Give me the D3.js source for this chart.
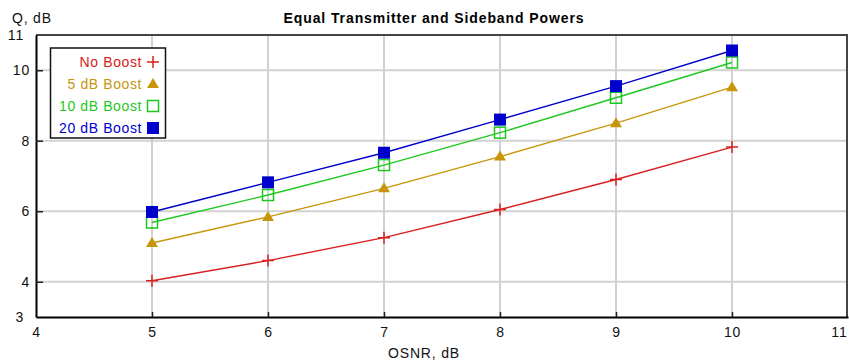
<!DOCTYPE html>
<html>
<head>
<meta charset="utf-8">
<script src="https://cdn.jsdelivr.net/npm/d3@7"></script>
<style>
  body { margin: 0; background: #fff; }
  svg { display: block; font-family: "Liberation Sans", Arial, sans-serif; }
</style>
</head>
<body>
<div id="chart"></div>
<script>
// data
const osnr = [5, 6, 7, 8, 9, 10];
const noBoost = [4.03, 4.6, 5.25, 6.05, 6.9, 7.82];
const boost5 = [5.1, 5.84, 6.65, 7.55, 8.5, 9.52];
const boost10 = [5.68, 6.46, 7.31, 8.23, 9.22, 10.22];
const boost20 = [5.98, 6.82, 7.66, 8.6, 9.55, 10.56];
const seriesNames = ["No Boost", "5 dB Boost", "10 dB Boost", "20 dB Boost"];
const xTicks = [4, 5, 6, 7, 8, 9, 10, 11];
const yTicks = [3, 4, 6, 8, 10, 11];
const xGrid = [5, 6, 7, 8, 9, 10];
const yGrid = [4, 6, 8, 10];

const width = 849;
const height = 362;
const marginTop = 35;
const marginRight = 1;
const marginBottom = 45;
const marginLeft = 36;

const series = [
  {name: seriesNames[0], values: noBoost, color: "#d92020", marker: "plus"},
  {name: seriesNames[1], values: boost5, color: "#c8960a", marker: "triangle"},
  {name: seriesNames[2], values: boost10, color: "#1ec81e", marker: "open"},
  {name: seriesNames[3], values: boost20, color: "#0000cc", marker: "filled"}
];

const svg = d3.select("#chart")
  .append("svg")
  .attr("width", width)
  .attr("height", height)
  .attr("viewBox", [0, 0, width, height]);

const x = d3.scaleLinear()
  .domain([4, 11])
  .range([marginLeft, width - marginRight]);

const y = d3.scaleLinear()
  .domain([3, 11])
  .range([height - marginBottom, marginTop]);

// grid
svg.append("g")
  .attr("stroke", "#d2d2d2")
  .attr("stroke-width", 2)
  .call(g => g.selectAll("line.v").data(xGrid).join("line")
    .attr("x1", d => x(d)).attr("x2", d => x(d))
    .attr("y1", y(11)).attr("y2", y(3)))
  .call(g => g.selectAll("line.h").data(yGrid).join("line")
    .attr("x1", x(4)).attr("x2", x(11))
    .attr("y1", d => y(d)).attr("y2", d => y(d)));

// top and right border
svg.append("path")
  .attr("fill", "none")
  .attr("stroke", "#444")
  .attr("stroke-width", 2)
  .attr("d", `M${x(4)},${y(11)}H${x(11) - 1}V${y(3)}`);

// axes
const gx = svg.append("g")
  .attr("transform", `translate(0,${y(3)})`)
  .call(d3.axisBottom(x).tickValues(xTicks).tickFormat(d3.format("d"))
    .tickSizeInner(-5).tickSizeOuter(0).tickPadding(10));

const gy = svg.append("g")
  .attr("transform", `translate(${x(4)},0)`)
  .call(d3.axisLeft(y).tickValues(yTicks).tickFormat(d3.format("d"))
    .tickSizeInner(-7).tickSizeOuter(0).tickPadding(6));

[gx, gy].forEach(g => {
  g.select(".domain").attr("stroke", "#000").attr("stroke-width", 2);
  g.selectAll(".tick line").attr("stroke", "#222").attr("stroke-width", 1.5);
  g.selectAll(".tick text")
    .attr("fill", "#111")
    .style("font-size", "14px")
    .style("letter-spacing", "0.8px")
    .style("font-family", "'Liberation Sans', Arial, sans-serif");
});
gy.selectAll(".tick").filter(d => d === 3 || d === 11)
  .call(t => t.select("line").remove())
  .call(t => t.select("text").attr("x", -12));
gx.selectAll(".tick").filter(d => d === 4 || d === 11)
  .select("line").remove();
// keep the last x label inside the page
gx.selectAll(".tick").filter(d => d === 11)
  .select("text").attr("text-anchor", "end").attr("x", -1);

// lines + markers
const line = d3.line()
  .x((d, i) => x(osnr[i]))
  .y(d => y(d));

function drawMarker(g, type, color, cx, cy) {
  if (type === "plus") {
    g.append("path")
      .attr("d", `M${cx - 6},${cy}H${cx + 6}M${cx},${cy - 6}V${cy + 6}`)
      .attr("stroke", color).attr("stroke-width", 1.5).attr("fill", "none");
  } else if (type === "triangle") {
    g.append("path")
      .attr("d", `M${cx},${cy - 6}L${cx + 6},${cy + 4}L${cx - 6},${cy + 4}Z`)
      .attr("fill", color);
  } else if (type === "open") {
    g.append("rect")
      .attr("x", cx - 5.5).attr("y", cy - 5.5).attr("width", 11).attr("height", 11)
      .attr("fill", "none").attr("stroke", color).attr("stroke-width", 1.5);
  } else {
    g.append("rect")
      .attr("x", cx - 6).attr("y", cy - 6).attr("width", 12).attr("height", 12)
      .attr("fill", color);
  }
}

series.forEach(s => {
  svg.append("path")
    .datum(s.values)
    .attr("fill", "none")
    .attr("stroke", s.color)
    .attr("stroke-width", 1.4)
    .attr("d", line);
  const gm = svg.append("g");
  s.values.forEach((v, i) => drawMarker(gm, s.marker, s.color, x(osnr[i]), y(v)));
});

// legend
const legend = svg.append("g");
legend.append("rect")
  .attr("x", 50.5).attr("y", 48)
  .attr("width", 115).attr("height", 90)
  .attr("fill", "#fff")
  .attr("stroke", "#111")
  .attr("stroke-width", 1.5);

series.forEach((s, i) => {
  legend.append("text")
    .attr("x", 142)
    .attr("y", 67 + i * 22)
    .attr("text-anchor", "end")
    .attr("fill", s.color)
    .style("font-size", "14px")
    .style("letter-spacing", "0.6px")
    .text(s.name);
  drawMarker(legend, s.marker, s.color, 153, 62 + i * 22);
});

// titles
svg.append("text")
  .attr("x", 434)
  .attr("y", 23)
  .attr("text-anchor", "middle")
  .style("font-size", "14px")
  .style("font-weight", "bold")
  .style("letter-spacing", "0.9px")
  .text("Equal Transmitter and Sideband Powers");

svg.append("text")
  .attr("x", 12)
  .attr("y", 23)
  .attr("fill", "#111")
  .style("font-size", "14px")
  .style("letter-spacing", "0.8px")
  .text("Q, dB");

svg.append("text")
  .attr("x", 424)
  .attr("y", 358)
  .attr("text-anchor", "middle")
  .attr("fill", "#111")
  .style("font-size", "14px")
  .style("letter-spacing", "0.8px")
  .text("OSNR, dB");
</script>
</body>
</html>
